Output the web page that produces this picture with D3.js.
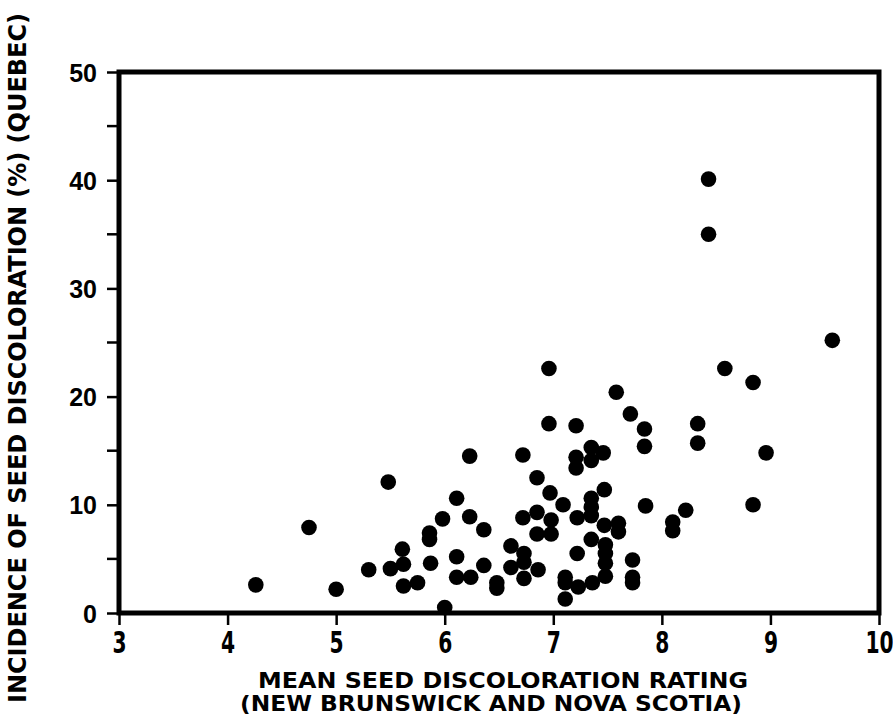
<!DOCTYPE html>
<html>
<head>
<meta charset="utf-8">
<script src="https://cdn.jsdelivr.net/npm/d3@7"></script>
<style>
  html, body { margin: 0; padding: 0; background: #fff; }
  svg { display: block; }
  .tick text { fill: #000; }
</style>
</head>
<body>
<div id="chart"></div>
<script>
// Seed discoloration: Quebec incidence vs. mean rating in NB/NS.
// Values, one point per entry.

var meanRating = [
  4.26, 4.75, 5.00, 5.48, 5.30, 5.50, 5.61, 5.62, 5.62, 5.75,
  5.86, 5.86, 5.87, 5.98, 6.00, 6.11, 6.11, 6.11, 6.23, 6.23,
  6.24, 6.36, 6.36, 6.48, 6.48, 6.61, 6.61, 6.72, 6.72, 6.73,
  6.73, 6.73, 6.85, 6.85, 6.85, 6.86, 6.96, 6.96, 6.97, 6.98,
  6.98, 7.09, 7.11, 7.11, 7.11, 7.21, 7.21, 7.21, 7.22, 7.22,
  7.23, 7.35, 7.35, 7.35, 7.35, 7.35, 7.35, 7.36, 7.46, 7.47,
  7.47, 7.48, 7.48, 7.48, 7.48, 7.58, 7.60, 7.60, 7.71, 7.73,
  7.73, 7.73, 7.84, 7.84, 7.85, 8.10, 8.10, 8.22, 8.33, 8.33,
  8.43, 8.43, 8.58, 8.84, 8.84, 8.96, 9.57
];

var incidence = [
  2.6, 7.9, 2.2, 12.1, 4.0, 4.1, 5.9, 4.5, 2.5, 2.8,
  7.4, 6.8, 4.6, 8.7, 0.5, 10.6, 5.2, 3.3, 14.5, 8.9,
  3.3, 7.7, 4.4, 2.8, 2.3, 6.2, 4.2, 14.6, 8.8, 5.5,
  4.7, 3.2, 12.5, 9.3, 7.3, 4.0, 22.6, 17.5, 11.1, 8.6,
  7.3, 10.0, 3.3, 2.8, 1.3, 17.3, 14.4, 13.4, 8.8, 5.5,
  2.4, 15.3, 14.1, 10.6, 9.8, 9.0, 6.8, 2.8, 14.8, 11.4,
  8.1, 6.3, 5.5, 4.6, 3.4, 20.4, 8.3, 7.5, 18.4, 4.9,
  3.3, 2.8, 17.0, 15.4, 9.9, 8.4, 7.6, 9.5, 17.5, 15.7,
  40.1, 35.0, 22.6, 21.3, 10.0, 14.8, 25.2
];

var xTicks = [3, 4, 5, 6, 7, 8, 9, 10];
var yTicks = [0, 10, 20, 30, 40, 50];
var yMinorTicks = [5, 15, 25, 35, 45];

var xTitle = ["MEAN SEED DISCOLORATION RATING", "(NEW BRUNSWICK AND NOVA SCOTIA)"];
var yTitle = "INCIDENCE OF SEED DISCOLORATION (%) (QUEBEC)";

(function () {
  var W = 893, H = 715;
  // plot frame edges (pixels)
  var fL = 119, fR = 879, fT = 72, fB = 613;
  var narrow = "'Liberation Sans Narrow', 'DejaVu Sans Condensed', 'Liberation Sans', sans-serif";

  var svg = d3.select("#chart").append("svg")
    .attr("width", W)
    .attr("height", H);

  var x = d3.scaleLinear().domain([3, 10]).range([fL, fR]);
  var y = d3.scaleLinear().domain([0, 50]).range([fB, fT]);

  // x axis: ticks hang below the frame
  var gx = svg.append("g")
    .attr("transform", "translate(0," + fB + ")")
    .call(d3.axisBottom(x).tickValues(xTicks).tickFormat(d3.format("d"))
      .tickSize(12).tickPadding(7));
  gx.select(".domain").remove();
  gx.selectAll(".tick line").attr("stroke", "#000").attr("stroke-width", 2.5);
  gx.selectAll(".tick text")
    .attr("font-family", narrow)
    .attr("font-weight", "bold")
    .attr("font-size", 30)
    .attr("transform", "scale(0.75,1)");

  // y axis: labels every 10, ticks every 5
  var gy = svg.append("g")
    .attr("transform", "translate(" + fL + ",0)")
    .call(d3.axisLeft(y).tickValues(yTicks).tickFormat(d3.format("d"))
      .tickSize(12).tickPadding(10));
  gy.select(".domain").remove();
  gy.selectAll(".tick line").attr("stroke", "#000").attr("stroke-width", 2.5);
  gy.selectAll(".tick text")
    .attr("font-family", "'Liberation Sans', Arial, sans-serif")
    .attr("font-weight", "bold")
    .attr("font-size", 25)
    .attr("dy", "0.36em");

  svg.append("g")
    .selectAll("line")
    .data(yMinorTicks)
    .join("line")
    .attr("x1", fL - 12).attr("x2", fL)
    .attr("y1", function (d) { return y(d); })
    .attr("y2", function (d) { return y(d); })
    .attr("stroke", "#000")
    .attr("stroke-width", 2.5);

  // heavy frame round the plot
  svg.append("rect")
    .attr("x", fL).attr("y", fT)
    .attr("width", fR - fL).attr("height", fB - fT)
    .attr("fill", "none")
    .attr("stroke", "#000")
    .attr("stroke-width", 5);

  // points
  svg.append("g")
    .selectAll("circle")
    .data(meanRating.map(function (v, i) { return [v, incidence[i]]; }))
    .join("circle")
    .attr("cx", function (d) { return x(d[0]); })
    .attr("cy", function (d) { return y(d[1]); })
    .attr("r", 7.8)
    .attr("fill", "#000");

  // axis titles (two tight lines under the x axis)
  svg.append("g")
    .selectAll("text")
    .data(xTitle)
    .join("text")
    .attr("x", function (d, i) { return i === 0 ? 503 : 491; })
    .attr("y", function (d, i) { return 688 + i * 23; })
    .attr("text-anchor", "middle")
    .attr("font-family", narrow)
    .attr("font-weight", "bold")
    .attr("font-size", 21)
    .attr("textLength", function (d, i) { return i === 0 ? 490 : 502; })
    .attr("lengthAdjust", "spacingAndGlyphs")
    .text(function (d) { return d; });

  svg.append("text")
    .attr("transform", "translate(26,358) rotate(-90)")
    .attr("text-anchor", "middle")
    .attr("font-family", narrow)
    .attr("font-weight", "bold")
    .attr("font-size", 25)
    .attr("textLength", 690)
    .attr("lengthAdjust", "spacingAndGlyphs")
    .text(yTitle);
})();
</script>
</body>
</html>
